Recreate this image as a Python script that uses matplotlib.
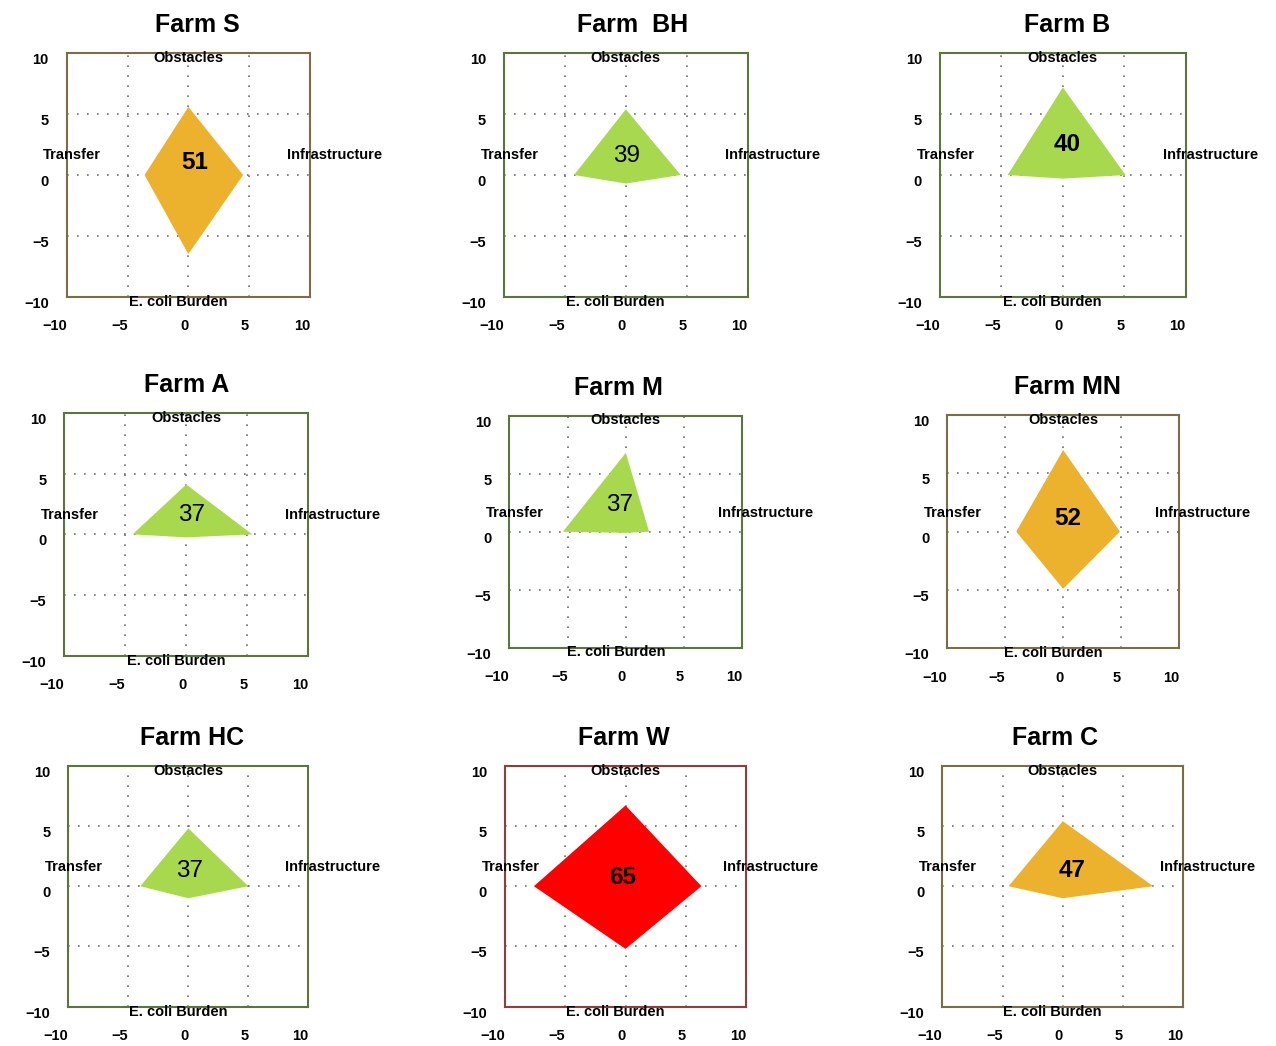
import matplotlib
matplotlib.use("Agg")
import matplotlib.pyplot as plt

plt.rcParams['font.family'] = ['Liberation Sans', 'DejaVu Sans']

# ---- data ----
farms = ['Farm S', 'Farm  BH', 'Farm B', 'Farm A', 'Farm M', 'Farm MN',
         'Farm HC', 'Farm W', 'Farm C']
scores = [51, 39, 40, 37, 37, 52, 37, 65, 47]
obstacles = [5.6, 5.4, 7.2, 4.1, 6.8, 7.0, 4.8, 6.7, 5.4]        # top
infrastructure = [4.5, 4.5, 5.1, 5.4, 2.0, 4.9, 5.0, 6.3, 7.5]   # right
ecoli_burden = [6.5, 0.7, 0.3, 0.25, 0.1, 4.9, 1.0, 5.2, 1.0]    # bottom
transfer = [3.6, 4.25, 4.5, 4.4, 5.4, 4.05, 4.0, 7.6, 4.5]       # left
risk = ['medium', 'low', 'low', 'low', 'low', 'medium', 'low', 'high', 'medium']
ticks = [-10, -5, 0, 5, 10]

# ---- styles ----
fill_colors = {'low': '#A8D84E', 'medium': '#EDB22D', 'high': '#FF0000'}
spine_colors = {'low': '#5E743D', 'medium': '#7D6C48', 'high': '#923C3C'}
score_weight = ['bold', 'normal', 'bold', 'normal', 'normal', 'bold',
                'normal', 'bold', 'bold']
# score text positions (data coords)
score_pos = [(0.52, 1.0), (0.08, 1.55), (0.36, 2.47), (0.47, 1.59),
             (-0.53, 2.28), (0.38, 1.13), (0.10, 1.29), (-0.23, 0.75),
             (0.74, 1.32)]
# axes rectangles in pixels: x0, y0(top), x1, y1(bottom)
W, H = 1276, 1046
rects_px = [(66.7, 53.3, 310, 296.7), (504, 53.3, 747.7, 296.7), (940, 53.3, 1185.7, 296.7),
            (64.3, 412.7, 308.3, 656), (509.3, 415.7, 742.3, 647.7), (947.3, 415, 1179, 648.3),
            (68.3, 765.7, 308.3, 1006.7), (505, 765.7, 746, 1006.7), (942.3, 765.7, 1183.3, 1006.7)]
title_dx_px = [8.7, 6.7, 4, 0, -7, 4, 3.4, -1.5, -7.8]

fig = plt.figure(figsize=(W / 100, H / 100), dpi=100)

for i, farm in enumerate(farms):
    x0, y0, x1, y1 = rects_px[i]
    ax = fig.add_axes([x0 / W, 1 - y1 / H, (x1 - x0) / W, (y1 - y0) / H])
    ax.set_xlim(-10, 10)
    ax.set_ylim(-10, 10)
    ax.set_xticks(ticks)
    ax.set_yticks(ticks)
    ax.tick_params(length=0, labelsize=10.5)
    ax.tick_params(axis='x', pad=16)
    ax.tick_params(axis='y', pad=13)
    for lab in ax.get_xticklabels():
        lab.set_fontweight('bold')
        lab.set_ha('right')
    for lab in ax.get_yticklabels():
        lab.set_fontweight('bold')
        lab.set_va('top')
    ax.grid(True, color='#707070', linestyle=(0, (1, 5)), linewidth=1.2)
    ax.set_axisbelow(True)
    for sp in ax.spines.values():
        sp.set_color(spine_colors[risk[i]])
        sp.set_linewidth(1.5)

    xs = [0, infrastructure[i], 0, -transfer[i]]
    ys = [obstacles[i], 0, -ecoli_burden[i], 0]
    ax.fill(xs, ys, color=fill_colors[risk[i]], linewidth=0, zorder=2)

    sx, sy = score_pos[i]
    ax.text(sx, sy, str(scores[i]), ha='center', va='center', fontsize=17.5,
            fontweight=score_weight[i], color='black', zorder=3)

    ax.text(0, 9.6, 'Obstacles', ha='center', va='center', fontsize=10.5,
            fontweight='bold', zorder=4)
    ax.text(-0.85, -10.4, 'E. coli Burden', ha='center', va='center', fontsize=10.5,
            fontweight='bold', zorder=4, clip_on=False)
    ax.text(-9.55, 1.63, 'Transfer', ha='center', va='center', fontsize=10.5,
            fontweight='bold', zorder=4, clip_on=False)
    ax.text(12.0, 1.63, 'Infrastructure', ha='center', va='center', fontsize=10.5,
            fontweight='bold', zorder=4, clip_on=False)

    ax.set_title(farm, fontsize=18, fontweight='bold', pad=15,
                 x=0.5 + title_dx_px[i] / (x1 - x0))

fig.savefig('out.png', dpi=100)
